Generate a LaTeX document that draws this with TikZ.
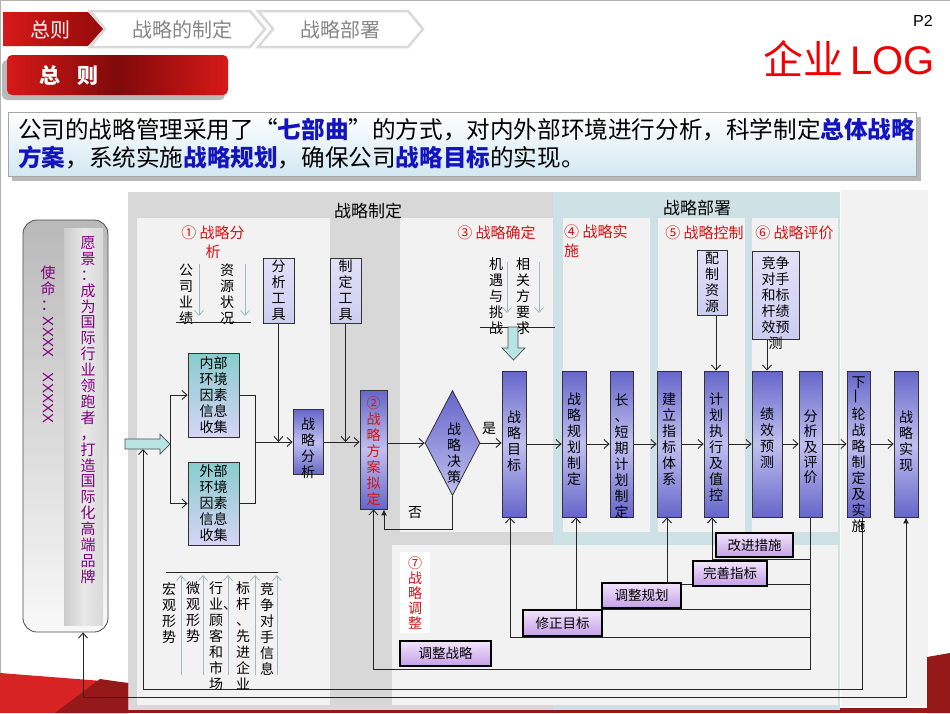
\documentclass[tikz,border=0pt]{standalone}
\usepackage{fontspec}
\setmainfont{Noto Sans CJK SC}
\newfontfamily\lat{Liberation Sans}
\usetikzlibrary{arrows.meta,shapes.geometric}
\newcommand\myfs[2]{\fontsize{#1}{#2}\selectfont}
\definecolor{pbA}{RGB}{102,102,202}
\definecolor{pbB}{RGB}{192,192,240}
\definecolor{lav}{RGB}{205,205,242}
\definecolor{tealA}{RGB}{135,205,205}
\definecolor{tealB}{RGB}{215,212,245}
\definecolor{adjA}{RGB}{242,228,252}
\definecolor{adjB}{RGB}{196,160,230}
\definecolor{redlbl}{RGB}{210,20,20}
\definecolor{purp}{RGB}{128,0,128}
\definecolor{bluetxt}{RGB}{20,20,190}
\definecolor{panel}{RGB}{242,242,242}
\definecolor{greybox}{RGB}{216,216,216}
\definecolor{bluebox}{RGB}{206,225,229}
\definecolor{cyanf}{RGB}{185,228,228}
\definecolor{garrc}{RGB}{160,186,192}
\definecolor{chevred}{RGB}{215,25,25}
\definecolor{chevdark}{RGB}{150,10,10}
\definecolor{logored}{RGB}{240,0,0}
\definecolor{swA}{RGB}{215,35,35}
\definecolor{swB}{RGB}{150,25,25}
\pgfdeclarelayer{back}\pgfdeclarelayer{mid}\pgfsetlayers{back,mid,main}
\tikzset{
  myb/.tip={Straight Barb[length=5pt,width=9pt]},
  ln/.style={draw=black!85, line width=0.9pt},
  garrow/.style={draw=garrc, line width=0.8pt, -{Straight Barb[length=5pt,width=9pt]}},
  rowbox/.style={draw=black!80, line width=0.8pt, top color=pbA, bottom color=pbA, middle color=pbB, minimum width=24pt, minimum height=146pt, inner sep=0pt},
  vt/.style={align=center, inner sep=0pt, font=\myfs{14}{16}},
  tool/.style={draw=black!80, line width=0.8pt, top color=lav!60!white, bottom color=lav, minimum width=31pt, minimum height=65pt, inner sep=0pt, align=center, font=\myfs{14}{16}},
  envbox/.style={draw=black!80, line width=0.8pt, top color=tealA, bottom color=tealB, minimum width=51pt, inner sep=0pt, align=center, font=\myfs{14}{16}},
  adj/.style={draw=black, line width=1.4pt, top color=adjA, bottom color=adjB, inner sep=0pt, font=\myfs{13.5}{14}},
  lbl/.style={text=redlbl, font=\myfs{15}{19}, inner sep=0pt},
}
\begin{document}
\begin{tikzpicture}[x=1pt,y=-1pt]
\useasboundingbox (0,0) rectangle (950,713);

% ---------- background panels ----------
\begin{pgfonlayer}{back}
\fill[white] (0,0) rectangle (950,713);
\draw[gray!60, line width=1pt] (0.5,713) -- (0.5,0.5) -- (950,0.5);
\fill[swB] (0,708) rectangle (950,713);
\fill[greybox] (128,192) rectangle (553,710);
\fill[panel] (137,218) rectangle (330,705);
\fill[panel] (400,218) rectangle (553,532);
\fill[bluebox] (553,192) rectangle (840,710);
\fill[panel] (563,218) rectangle (650,532);
\fill[panel] (658,218) rectangle (745,532);
\fill[panel] (752,218) rectangle (838,532);
\fill[panel] (392,545) rectangle (838,705);
\fill[panel] (841,190) rectangle (928,706);
\fill[swA] (0,673) -- (128,683) -- (128,713) -- (0,713) -- cycle;
\fill[swB] (55,713) -- (100,679) -- (128,683) -- (128,713) -- cycle;
\fill[swB] (927,657) -- (950,653) -- (950,713) -- (927,713) -- cycle;
\end{pgfonlayer}

% ---------- header ----------
\path[fill=white, draw=gray!30, line width=2.5pt] (258,11) -- (408,11) -- (423,29) -- (408,47) -- (258,47) -- (273,29) -- cycle;
\path[fill=white, draw=gray!30, line width=2.5pt] (90,11) -- (250,11) -- (265,29) -- (250,47) -- (90,47) -- (105,29) -- cycle;
\shade[left color=chevred, right color=chevdark] (3,12) -- (88,12) -- (103,29) -- (88,46) -- (3,46) -- cycle;
\node[text=white, font=\myfs{20}{22}, inner sep=0] (h1) at (50,30) {总则};
\node[text=gray!95, font=\myfs{20}{22}, inner sep=0] (h2) at (182,30) {战略的制定};
\node[text=gray!95, font=\myfs{20}{22}, inner sep=0] (h3) at (340,30) {战略部署};
\fill[gray!55, rounded corners=5pt] (2,60) rectangle (225,100);
\shade[left color=chevred, right color=chevred, middle color=chevdark!85!black, rounded corners=5pt] (7,55) rectangle (228,95);
\node[text=white, font=\myfs{21}{22}\bfseries, inner sep=0] (zz) at (69,75) {总\hspace{18pt}则};
\node[font=\lat\myfs{16}{18}, inner sep=0] (pg2) at (923,21) {P2};
\node[text=logored, anchor=east, inner sep=0] (logo) at (935,59) {\myfs{40}{44}企业\,{\lat LOG}};

% ---------- intro box ----------
\fill[gray!55] (12,117) rectangle (921,181);
\node[draw=gray!70, line width=0.8pt, top color=white, bottom color={rgb,255:red,210;green,232;blue,242}, minimum width=908pt, minimum height=64pt, anchor=north west, inner sep=0] (tb) at (8,112) {};
\node[anchor=west, align=left, font=\myfs{23.6}{28}, inner sep=0] (tbt) at (18,144) {公司的战略管理采用了“\textcolor{bluetxt}{\bfseries 七部曲}”的方式，对内外部环境进行分析，科学制定\textcolor{bluetxt}{\bfseries 总体战略}\\\textcolor{bluetxt}{\bfseries 方案}，系统实施\textcolor{bluetxt}{\bfseries 战略规划}，确保公司\textcolor{bluetxt}{\bfseries 战略目标}的实现。};

% ---------- section titles ----------
\node[font=\myfs{17}{19}, inner sep=0] (ttl1) at (368,211) {战略制定};
\node[font=\myfs{17}{19}, inner sep=0] (ttl2) at (697,208) {战略部署};
\node[lbl, align=center] (s1) at (213,242) {① 战略分\\析};
\node[lbl] (s3) at (496.5,233) {③ 战略确定};
\node[lbl, align=left, anchor=north west] (s4) at (564,225) {④ 战略实\\施};
\node[lbl] (s5) at (704.5,233) {⑤ 战略控制};
\node[lbl] (s6) at (794.5,233) {⑥ 战略评价};

% ---------- vision panel ----------
\node[draw=black!70, line width=0.8pt, rounded corners=14pt, top color=gray!55, bottom color=gray!5, minimum width=85pt, minimum height=412pt, inner sep=0] (vp) at (65.5,426) {};
\shade[left color=gray!40, right color=gray!30, middle color=gray!18] (64,228) rectangle (103,625);
\node[vt, text=purp, font=\myfs{15}{16}] (ms1) at (48,288) {使\\命\\：};
\node[text=purp, rotate=-90, font=\lat\myfs{15}{16}, inner sep=0] (ms2) at (48,337) {XXXX};
\node[text=purp, rotate=-90, font=\lat\myfs{15}{16}, inner sep=0] (ms3) at (48,398) {XXXXX};
\node[vt, text=purp, font=\myfs{15}{15.9}] (vis) at (88,410) {愿\\景\\：\\成\\为\\国\\际\\行\\业\\领\\跑\\者\\，\\打\\造\\国\\际\\化\\高\\端\\品\\牌};

% ---------- analysis column ----------
\node[vt] (f1) at (186,294) {公\\司\\业\\绩};
\node[vt] (f2) at (227,294) {资\\源\\状\\况};
\node[envbox, minimum height=84pt] (inb) at (213.5,395) {内部\\环境\\因素\\信息\\收集};
\node[envbox, minimum height=83pt] (exb) at (213.5,503.5) {外部\\环境\\因素\\信息\\收集};
\node[tool] (t1) at (278.5,290.5) {分\\析\\工\\具};
\node[tool] (t2) at (345.5,290.5) {制\\定\\工\\具};
\node[draw=black!80, line width=0.8pt, top color=pbA, bottom color=pbA, middle color=pbB, minimum width=30pt, minimum height=65pt, inner sep=0] (sa) at (308,442) {};
\node[vt] (saT) at (308,448) {战\\略\\分\\析};
\node[draw=black!80, line width=0.8pt, top color=pbA, bottom color=pbA, middle color=pbB, minimum width=27pt, minimum height=119pt, inner sep=0] (p2) at (373.5,449.5) {};
\node[vt, text=redlbl] (p2T) at (373.5,451) {②\\战\\略\\方\\案\\拟\\定};
\node[diamond, draw=black!80, line width=0.8pt, top color=pbA, bottom color=pbB, minimum width=55pt, minimum height=105pt, inner sep=0] (dec) at (452.5,443) {};
\node[vt] (decT) at (454,453) {战\\略\\决\\策};
\node[font=\myfs{14}{16}, inner sep=0] (yes) at (489,428) {是};
\node[font=\myfs{14}{16}, inner sep=0] (no) at (415,513) {否};

% factors of opportunity
\node[vt] (f3) at (496,296) {机\\遇\\与\\挑\\战};
\node[vt] (f4) at (523,296) {相\\关\\方\\要\\求};
\fill[cyanf, draw=black!70, line width=0.7pt] (508,327) -- (518,327) -- (518,348) -- (525,348) -- (513.5,360) -- (502,348) -- (508,348) -- cycle;

% ---------- main row ----------
\node[rowbox] (mb) at (514,444) {};
\node[rowbox] (pg) at (574,444) {};
\node[rowbox, minimum width=23pt] (plan) at (621.5,444) {};
\node[rowbox] (idx) at (669,444) {};
\node[rowbox] (exe) at (716,444) {};
\node[rowbox, minimum width=30pt] (perf) at (767,444) {};
\node[rowbox, minimum width=23pt] (eval) at (810.5,444) {};
\node[rowbox, minimum width=23pt] (next) at (858.5,444) {};
\node[rowbox] (real) at (906,444) {};
\node[vt] (mbT) at (514,441) {战\\略\\目\\标};
\node[vt] (pgT) at (574,439) {战\\略\\规\\划\\制\\定};
\node[vt] (planT) at (621.5,456) {长\\、\\短\\期\\计\\划\\制\\定};
\node[vt] (idxT) at (669,439) {建\\立\\指\\标\\体\\系};
\node[vt] (exeT) at (716,447) {计\\划\\执\\行\\及\\值\\控};
\node[vt] (perfT) at (767,438) {绩\\效\\预\\测};
\node[vt, font=\myfs{14}{15.3}] (evalT) at (810.5,447) {分\\析\\及\\评\\价};
\node[vt] (nextT) at (858.5,455) {下\\\rotatebox{90}{一}\\轮\\战\\略\\制\\定\\及\\实\\施};
\node[vt] (realT) at (906,441) {战\\略\\实\\现};

\node[tool, minimum width=30pt] (t3) at (712,282.5) {配\\制\\资\\源};
\node[draw=black!80, line width=0.8pt, top color=lav!60!white, bottom color=lav, minimum width=47pt, minimum height=88pt, inner sep=0] (t4) at (775.5,295) {};
\node[vt] (t4T) at (775.5,303.5) {竞争\\对手\\和标\\杆绩\\效预\\测};

% ---------- adjustment ----------
\node[fill=white, minimum width=30pt, minimum height=81pt, inner sep=0, text=redlbl, align=center, font=\myfs{14}{15}] (s7) at (415,592.5) {⑦\\战\\略\\调\\整};
\node[adj, minimum width=77pt, minimum height=24pt] (a4) at (754.5,545) {改进措施};
\node[adj, minimum width=74pt, minimum height=25pt] (a3) at (730,573.5) {完善指标};
\node[adj, minimum width=79pt, minimum height=25pt] (a2) at (641.5,595.5) {调整规划};
\node[adj, minimum width=79pt, minimum height=26pt] (a1) at (562.5,623) {修正目标};
\node[adj, minimum width=91pt, minimum height=25pt] (a0) at (445.5,653.5) {调整战略};

% bottom factors
\node[vt, anchor=north] (b1) at (169,582) {宏\\观\\形\\势};
\node[vt, anchor=north] (b2) at (193,582) {微\\观\\形\\势};
\node[vt, anchor=north] (b3) at (216,582) {行\\业\rlap{、}\\顾\\客\\和\\市\\场};
\node[vt, anchor=north] (b4) at (243,582) {标\\杆\\、\\先\\进\\企\\业};
\node[vt, anchor=north] (b5) at (267,582) {竞\\争\\对\\手\\信\\息};

% block arrow entry
\fill[cyanf, draw=black!70, line width=0.7pt] (125,439) -- (160,439) -- (160,434) -- (170,444) -- (160,454) -- (160,449) -- (125,449) -- cycle;
\coordinate (inTip) at (170,444);
\coordinate (inBot) at (143,449);
\coordinate (mj) at (255,442);
\coordinate (noC) at (384,529);
\coordinate (L0) at (810.5,669);
\coordinate (L1) at (810.5,637);
\coordinate (L2) at (810.5,609);
\coordinate (L3) at (810.5,584);
\coordinate (L4) at (810.5,559);
\coordinate (fbA) at (143,689);
\coordinate (fbB) at (83,697);

% ---------- connectors ----------
\begin{pgfonlayer}{mid}
\draw[garrow] (199,264) -- (199,316);
\draw[garrow] (245,264) -- (245,316);
\draw[ln] (176,322) -- (251,322);
\draw[garrow] (507,262) -- (507,313);
\draw[garrow] (539,262) -- (539,313);
\draw[ln] (480,327) -- (555,327);
\draw[ln] (166,572) -- (278,572);
\foreach \xx in {181,203,228,255,277} {\draw[garrow] (\xx,675) -- (\xx,575);}

\draw[ln,-myb] (inTip) |- (inb.west);
\draw[ln,-myb] (inTip) |- (exb.west);
\draw[ln] (inb.east) -| (mj);
\draw[ln] (exb.east) -| (mj);
\draw[ln,-myb] (mj) -- (sa.west);
\draw[ln,-myb] (t1.south) -- (t1.south |- mj);
\draw[ln,-myb] (sa.east) -- (sa.east -| p2.west);
\draw[ln,-myb] (t2.south) -- (t2.south |- sa.east);
\draw[ln,-myb] (p2.east |- dec.west) -- (dec.west);
\draw[ln,-myb] (dec.east) -- (dec.east -| mb.west);
\draw[ln,-{Latex[length=6pt,width=6pt]}] (dec.south) |- (noC) -- (noC |- p2.south);
\draw[ln,-myb] (mb.east) -- (pg.west);
\draw[ln,-myb] (pg.east) -- (plan.west);
\draw[ln,-myb] (plan.east) -- (idx.west);
\draw[ln,-myb] (idx.east) -- (exe.west);
\draw[ln,-myb] (exe.east) -- (perf.west);
\draw[ln,-myb] (perf.east) -- (eval.west);
\draw[ln,-myb] (eval.east) -- (next.west);
\draw[ln,-myb] (next.east) -- (real.west);
\draw[ln,-myb] (exe.north |- t3.south) -- (exe.north);
\draw[ln,-myb] (perf.north |- t4.south) -- (perf.north);

\draw[ln,-myb] (eval.south) -- (L0) -| (p2.south);
\draw[ln,-myb] (L1) -| ([xshift=-4pt]mb.south);
\draw[ln,-myb] (L2) -| ([xshift=2pt]pg.south);
\draw[ln,-myb] (L3) -| ([xshift=-2pt]idx.south);
\draw[ln,-myb] (L4) -| ([xshift=-4pt]exe.south);

\draw[ln,-myb] ([xshift=3.5pt]next.south) |- (fbA) -- (inBot);
\draw[ln,{Latex[length=6pt,width=6pt]}-myb] (real.south) |- (fbB) -- (fbB |- vp.south);
\end{pgfonlayer}
\end{tikzpicture}
\end{document}
